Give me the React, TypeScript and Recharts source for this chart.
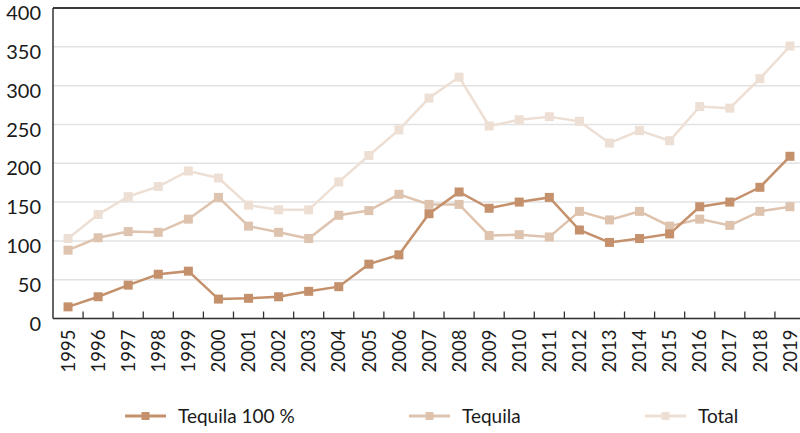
import React from 'react';
import { LineChart, Line, XAxis, YAxis, CartesianGrid, Legend, ReferenceLine } from 'recharts';

const years = ['1995','1996','1997','1998','1999','2000','2001','2002','2003','2004','2005','2006','2007','2008','2009','2010','2011','2012','2013','2014','2015','2016','2017','2018','2019'];
const tequila100 = [15, 28, 43, 57, 61, 25, 26, 28, 35, 41, 70, 82, 135, 163, 142, 150, 156, 114, 98, 103, 109, 144, 150, 169, 209];
const tequila = [88, 104, 112, 111, 128, 156, 119, 111, 103, 133, 139, 160, 147, 147, 107, 108, 105, 138, 127, 138, 119, 128, 120, 138, 144];
const total = [103, 134, 157, 170, 190, 181, 146, 140, 140, 176, 210, 243, 284, 311, 248, 256, 260, 254, 226, 242, 229, 273, 271, 309, 351];
const yTicks = [0, 50, 100, 150, 200, 250, 300, 350, 400];

const seriesNames = { t100: 'Tequila 100 %', teq: 'Tequila', tot: 'Total' };
const colors = { t100: '#C4916C', teq: '#DEC3AF', tot: '#EEDFD5' };
const legendOrder = ['t100', 'teq', 'tot'];

const data = years.map((y, i) => ({ year: y, t100: tequila100[i], teq: tequila[i], tot: total[i] }));

const FONT = 'Lato, "Open Sans", sans-serif';

const squareDot = (color: string) => (props: any) => {
  const { cx, cy, index } = props;
  if (cx == null || cy == null) return <g key={`d${index}`} />;
  return <rect key={`d${index}`} x={cx - 4.5} y={cy - 4.5} width={9} height={9} fill={color} />;
};

const XTick = (props: any) => {
  const { x, y, payload } = props;
  const off = payload && payload.offset != null ? payload.offset : 15;
  return (
    <g>
      <line x1={x + off} y1={y} x2={x + off} y2={y - 7} stroke="#333" strokeWidth={1.3} />
      <text
        transform={`translate(${x},${y + 11}) rotate(-90)`}
        textAnchor="end"
        dy="0.36em"
        fontSize={18.5}
        fontFamily={FONT}
        fill="#1a1a1a"
      >
        {payload.value}
      </text>
    </g>
  );
};

const YTick = (props: any) => {
  const { x, y, payload } = props;
  return (
    <text x={x - 12} y={y + 5} dy="0.36em" textAnchor="end" fontSize={20} fontFamily={FONT} fill="#1a1a1a">
      {payload.value}
    </text>
  );
};

const legendX = [125, 409, 645];

const LegendContent = (props: any) => {
  const payload: any[] = props.payload || [];
  const items = legendOrder
    .map((k) => payload.find((p: any) => p.dataKey === k))
    .filter(Boolean);
  return (
    <div style={{ position: 'relative', width: 800, height: 40 }}>
      <svg width={800} height={40} style={{ position: 'absolute', left: 0, top: 0 }}>
        {items.map((p: any, i: number) => {
          const lx = legendX[i];
          const cy = 23;
          return (
            <g key={p.value}>
              <line x1={lx} y1={cy} x2={lx + 41} y2={cy} stroke={p.color} strokeWidth={3} />
              <rect x={lx + 20.5 - 4} y={cy - 4} width={8} height={8} fill={p.color} />
              <text x={lx + 53} y={cy} dy="0.36em" fontSize={19} fontFamily={FONT} fill="#1a1a1a">
                {p.value}
              </text>
            </g>
          );
        })}
      </svg>
    </div>
  );
};

export default function App() {
  return (
    <div style={{ position: 'absolute', left: 0, top: 0, width: 800, height: 433, overflow: 'hidden', background: '#fff' }}>
      <LineChart width={820} height={433} data={data} margin={{ top: 8, right: 15, left: 0, bottom: 0 }}>
        <CartesianGrid vertical={false} stroke="#E2E2E2" strokeWidth={1.5} />
        <XAxis
          dataKey="year"
          scale="band"
          interval={0}
          height={74.5}
          tickLine={false}
          tickSize={0}
          tickMargin={0}
          axisLine={{ stroke: '#333', strokeWidth: 1.5 }}
          tick={<XTick />}
        />
        <YAxis
          domain={[0, 400]}
          ticks={yTicks}
          width={53}
          tickLine={false}
          tickSize={0}
          tickMargin={0}
          axisLine={{ stroke: '#333', strokeWidth: 1.5 }}
          tick={<YTick />}
          interval={0}
        />
        <ReferenceLine y={400} stroke="#3a3a3a" strokeWidth={2} />
        <Legend
          verticalAlign="bottom"
          height={40}
          wrapperStyle={{ left: 0, bottom: 0, width: 800 }}
          content={<LegendContent />}
        />
        <Line dataKey="tot" name={seriesNames.tot} stroke={colors.tot} strokeWidth={2.5} dot={squareDot(colors.tot)} activeDot={false} isAnimationActive={false} legendType="square" />
        <Line dataKey="teq" name={seriesNames.teq} stroke={colors.teq} strokeWidth={2.5} dot={squareDot(colors.teq)} activeDot={false} isAnimationActive={false} legendType="square" />
        <Line dataKey="t100" name={seriesNames.t100} stroke={colors.t100} strokeWidth={2.5} dot={squareDot(colors.t100)} activeDot={false} isAnimationActive={false} legendType="square" />
      </LineChart>
    </div>
  );
}
